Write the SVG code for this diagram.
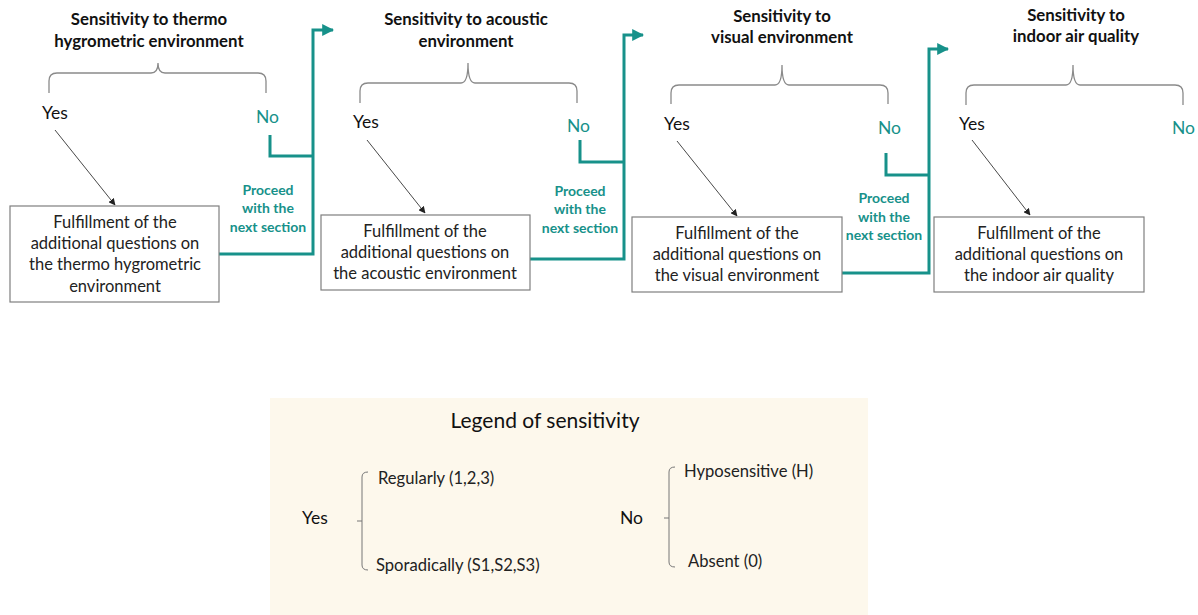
<svg xmlns="http://www.w3.org/2000/svg" width="1198" height="615" viewBox="0 0 1198 615">
<defs>
<marker id="ah" viewBox="0 0 10 10" refX="9" refY="5" markerWidth="7" markerHeight="7" markerUnits="userSpaceOnUse" orient="auto"><path d="M0,0 L10,5 L0,10 z" fill="#222"/></marker>
<marker id="th" viewBox="0 0 10 10" refX="9" refY="5" markerWidth="4" markerHeight="4" orient="auto"><path d="M0,0 L10,5 L0,10 z" fill="#17918a"/></marker>
<style>
.t{font-family:Lato,"Liberation Sans",sans-serif;font-weight:bold;font-size:16.8px;fill:#111;text-anchor:middle}
.b{font-family:Lato,"Liberation Sans",sans-serif;font-size:16.5px;fill:#222;text-anchor:middle}
.y{font-family:Lato,"Liberation Sans",sans-serif;font-size:17.5px;fill:#111}
.n{font-family:Lato,"Liberation Sans",sans-serif;font-size:17.5px;fill:#17918a}
.p{font-family:Lato,"Liberation Sans",sans-serif;font-weight:bold;font-size:14px;fill:#17918a;text-anchor:middle}
.box{fill:#fff;stroke:#7f7f7f;stroke-width:1.2}
.br{fill:none;stroke:#8a8a8a;stroke-width:1.3}
.ar{fill:none;stroke:#333;stroke-width:0.9;marker-end:url(#ah)}
.tl{fill:none;stroke:#17918a;stroke-width:3}
.l{font-family:Lato,"Liberation Sans",sans-serif;font-size:16.6px;fill:#222}
.lb{fill:none;stroke:#777;stroke-width:1}
</style>
</defs>
<rect width="1198" height="615" fill="#fff"/>

<g id="connectors">
<path class="ar" d="M55,130 L115,205"/>
<path class="ar" d="M367,140 L425,213"/>
<path class="ar" d="M677,141 L737,216"/>
<path class="ar" d="M972,140 L1030,215"/>
<path class="tl" d="M270,135 L270,156 L313,156"/>
<path class="tl" d="M219,254 L313,254 L313,30 L333,30" marker-end="url(#th)"/>
<path class="tl" d="M580,140 L580,162 L624,162"/>
<path class="tl" d="M530,259 L624,259 L624,35 L643,35" marker-end="url(#th)"/>
<path class="tl" d="M886,153 L886,175 L929,175"/>
<path class="tl" d="M836,273 L929,273 L929,49 L948,49" marker-end="url(#th)"/>
</g>

<g id="section1">
<text class="t" x="149" y="25">Sensitivity to thermo</text>
<text class="t" x="149" y="47">hygrometric environment</text>
<path class="br" d="M49,93 L49,81 Q49,73 57,73 L151,73 Q158,73 158,63 Q158,73 165,73 L258,73 Q266,73 266,81 L266,93"/>
<text class="y" x="42" y="119">Yes</text>
<text class="n" x="256" y="123">No</text>
<text class="p" x="268" y="195">Proceed</text>
<text class="p" x="268" y="213">with the</text>
<text class="p" x="268" y="232">next section</text>
</g>
<g id="box1">
<rect class="box" x="10" y="206" width="209" height="96"/>
<text class="b" x="115" y="228">Fulfillment of the</text>
<text class="b" x="115" y="249">additional questions on</text>
<text class="b" x="115" y="270">the thermo hygrometric</text>
<text class="b" x="115" y="292">environment</text>
</g>

<g id="section2">
<text class="t" x="466" y="25">Sensitivity to acoustic</text>
<text class="t" x="466" y="47">environment</text>
<path class="br" d="M360,103 L360,91 Q360,83 368,83 L461,83 Q468,83 468,63 Q468,83 475,83 L569,83 Q577,83 577,91 L577,103"/>
<text class="y" x="353" y="128">Yes</text>
<text class="n" x="567" y="132">No</text>
<text class="p" x="580" y="196">Proceed</text>
<text class="p" x="580" y="214">with the</text>
<text class="p" x="580" y="233">next section</text>
</g>
<g id="box2">
<rect class="box" x="321" y="215" width="209" height="75"/>
<text class="b" x="425" y="237">Fulfillment of the</text>
<text class="b" x="425" y="258">additional questions on</text>
<text class="b" x="425" y="279">the acoustic environment</text>
</g>

<g id="section3">
<text class="t" x="782" y="22">Sensitivity to</text>
<text class="t" x="782" y="43">visual environment</text>
<path class="br" d="M671,104 L671,93 Q671,85 679,85 L775,85 Q782,85 782,65 Q782,85 789,85 L880,85 Q888,85 888,93 L888,104"/>
<text class="y" x="664" y="130">Yes</text>
<text class="n" x="878" y="134">No</text>
<text class="p" x="884" y="203">Proceed</text>
<text class="p" x="884" y="222">with the</text>
<text class="p" x="884" y="240">next section</text>
</g>
<g id="box3">
<rect class="box" x="632" y="217" width="210" height="75"/>
<text class="b" x="737" y="239">Fulfillment of the</text>
<text class="b" x="737" y="260">additional questions on</text>
<text class="b" x="737" y="281">the visual environment</text>
</g>

<g id="section4">
<text class="t" x="1076" y="21">Sensitivity to</text>
<text class="t" x="1076" y="42">indoor air quality</text>
<path class="br" d="M966,105 L966,93 Q966,85 974,85 L1066,85 Q1073,85 1073,65 Q1073,85 1080,85 L1175,85 Q1183,85 1183,93 L1183,105"/>
<text class="y" x="959" y="130">Yes</text>
<text class="n" x="1172" y="134">No</text>
</g>
<g id="box4">
<rect class="box" x="934" y="217" width="210" height="75"/>
<text class="b" x="1039" y="239">Fulfillment of the</text>
<text class="b" x="1039" y="260">additional questions on</text>
<text class="b" x="1039" y="281">the indoor air quality</text>
</g>

<g id="legend">
<rect x="270" y="398" width="598" height="217" fill="#fdf8ec"/>
<text x="545" y="428" font-family="Lato,'Liberation Sans',sans-serif" font-size="21" fill="#111" text-anchor="middle">Legend of sensitivity</text>
<text class="y" x="302" y="524">Yes</text>
<path class="lb" d="M368,472 Q362,472 362,477 L362,565 Q362,570 368,570 M357,521 L362,521"/>
<text class="l" x="378" y="484">Regularly (1,2,3)</text>
<text class="l" x="376" y="571">Sporadically (S1,S2,S3)</text>
<text class="y" x="620" y="524">No</text>
<path class="lb" d="M675,467 Q669,467 669,472 L669,562 Q669,567 675,567 M664,518 L669,518"/>
<text class="l" x="684" y="477">Hyposensitive (H)</text>
<text class="l" x="688" y="567">Absent (0)</text>
</g>
</svg>
